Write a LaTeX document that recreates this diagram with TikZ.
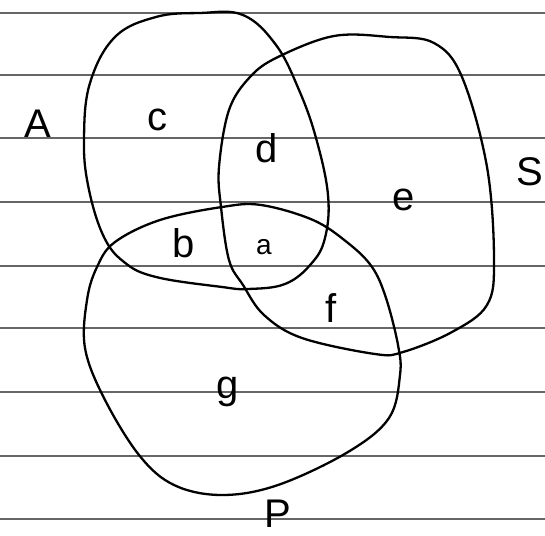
\documentclass[tikz,border=0pt]{standalone}
\usepackage{fontspec}
\setmainfont{Liberation Sans}
\begin{document}
\begin{tikzpicture}[x=1pt,y=-1pt,
  ruled/.style={draw=black!60,line width=1.8pt},
  setline/.style={draw=black,line width=2.3pt,line join=round},
  lbl/.style={font=\fontsize{40}{42}\selectfont,inner sep=0pt}]
\useasboundingbox (0,0) rectangle (545,535);
\fill[white] (0,0) rectangle (545,535);
% ruled paper lines
\foreach \yy in {13,75,138,202,266,328,392,456,519}
  \draw[ruled] (0,\yy) -- (545,\yy);
% set A
\draw[setline] plot[smooth cycle,tension=0.65] coordinates {
  (200,13) (243,15) (276,45) (299,90) (316,138) (328,195) (325,238)
  (311,264) (285,284) (248,289) (222,287) (156,277) (124,262) (103,235)
  (88,185) (84,138) (90,83) (115,37) (156,17)};
% set S
\draw[setline] plot[smooth cycle,tension=0.6] coordinates {
  (334,36) (390,37) (434,43) (462,77) (487,167) (494,260) (487,305)
  (452,332) (403,352) (375,354) (302,338) (264,315) (243,285) (229,260)
  (221,207) (219,167) (229,110) (250,77) (278,57)};
% set P
\draw[setline] plot[smooth cycle,tension=0.6] coordinates {
  (222,207) (261,205) (313,220) (348,243) (372,267) (386,298) (398,345)
  (400,375) (389,418) (348,452) (278,485) (222,495) (174,485) (139,455)
  (104,398) (85,348) (87,300) (97,267) (115,242) (160,220)};
% labels
\node[lbl] (lA) at (38,124) {A};
\node[lbl] (lc) at (157,120) {c};
\node[lbl] (ld) at (267,148) {d};
\node[lbl] (le) at (404,200) {e};
\node[lbl] (lS) at (530,172) {S};
\node[lbl] (lb) at (184,243) {b};
\node[lbl] (la) at (264,247) {\fontsize{28}{30}\selectfont a};
\node[lbl] (lf) at (331,308) {f};
\node[lbl] (lg) at (228,392) {g};
\node[lbl] (lP) at (278,514) {P};
\end{tikzpicture}
\end{document}
